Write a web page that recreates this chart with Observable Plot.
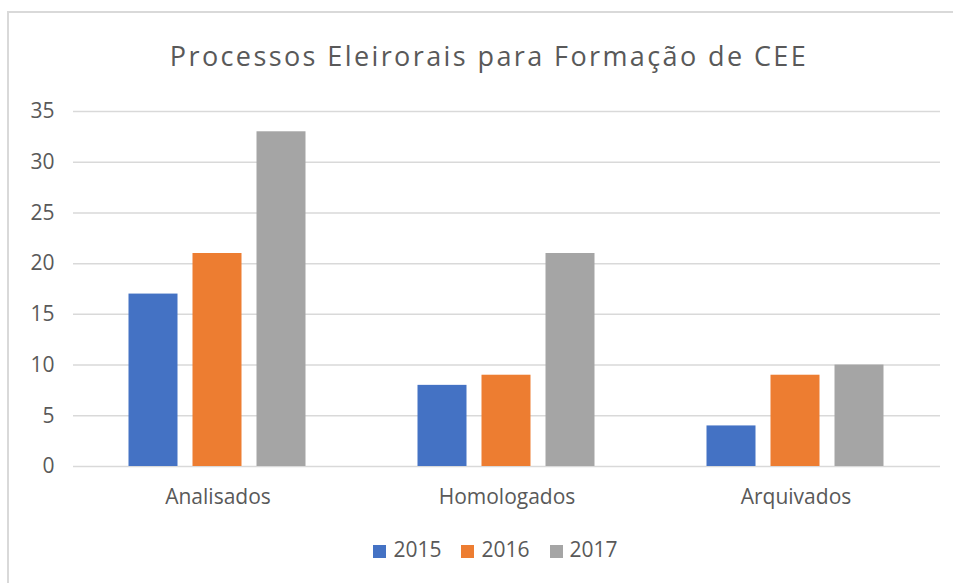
<!DOCTYPE html>
<html><head><meta charset="utf-8">
<script src="https://cdn.jsdelivr.net/npm/d3@7"></script>
<script src="https://cdn.jsdelivr.net/npm/@observablehq/plot@0.6"></script>
<style>
body{margin:0;background:#fff;font-family:"Open Sans",sans-serif;}
#wrap{position:relative;width:953px;height:583px;overflow:hidden;background:#fff;}
#frame{position:absolute;left:7px;top:11px;width:960px;height:600px;border-left:2px solid #d9d9d9;border-top:2px solid #d9d9d9;}
#title{position:absolute;left:0;width:978px;top:42px;text-align:center;font-size:27px;line-height:27px;letter-spacing:2.4px;color:#595959;white-space:nowrap;}
#chart{position:absolute;left:0;top:0;}
#legend{position:absolute;left:0;width:991px;top:539px;display:flex;justify-content:center;font-size:21px;line-height:21px;color:#595959;}
.item{display:flex;align-items:flex-start;margin:0 10px;}
.sw{width:13px;height:13px;margin-top:6px;margin-right:7px;}
</style></head>
<body>
<div id="wrap">
  <div id="frame"></div>
  <div id="title">Processos Eleirorais para Formação de CEE</div>
  <div id="chart"></div>
  <div id="legend"></div>
</div>
<script>
const categories = ["Analisados", "Homologados", "Arquivados"];
const years = ["2015", "2016", "2017"];
const values2015 = [17, 8, 4];
const values2016 = [21, 9, 9];
const values2017 = [33, 21, 10];
const colors = ["#4472C4", "#ED7D31", "#A5A5A5"];
const yTicks = [0, 5, 10, 15, 20, 25, 30, 35];

const series = [values2015, values2016, values2017];
const rows = [];
categories.forEach((c, i) => years.forEach((y, j) => rows.push({category: c, year: y, value: series[j][i]})));

const chart = Plot.plot({
  width: 953,
  height: 520,
  marginLeft: 72.5,
  marginRight: 13.5,
  marginTop: 111,
  marginBottom: 54,
  style: {fontFamily: "'Open Sans', sans-serif", fontSize: "21px", color: "#595959", background: "transparent", overflow: "visible"},
  fx: {domain: categories, padding: 0, label: null, axis: "bottom", tickSize: 0, tickPadding: 23},
  x: {domain: years, paddingInner: 0.227, paddingOuter: 0.847, axis: null},
  y: {domain: [0, 35], ticks: 7, tickSize: 0, tickPadding: 19, label: null},
  color: {domain: years, range: colors},
  marks: [
    Plot.ruleY(yTicks, {stroke: "#d9d9d9", strokeWidth: 1.5}),
    Plot.barY(rows, {fx: "category", x: "year", y: "value", fill: "year"})
  ]
});
document.getElementById("chart").appendChild(chart);

const legend = document.getElementById("legend");
years.forEach((y, i) => {
  const item = document.createElement("div");
  item.className = "item";
  const sw = document.createElement("div");
  sw.className = "sw";
  sw.style.background = colors[i];
  const t = document.createElement("span");
  t.textContent = y;
  item.appendChild(sw); item.appendChild(t);
  legend.appendChild(item);
});
</script>
</body></html>
